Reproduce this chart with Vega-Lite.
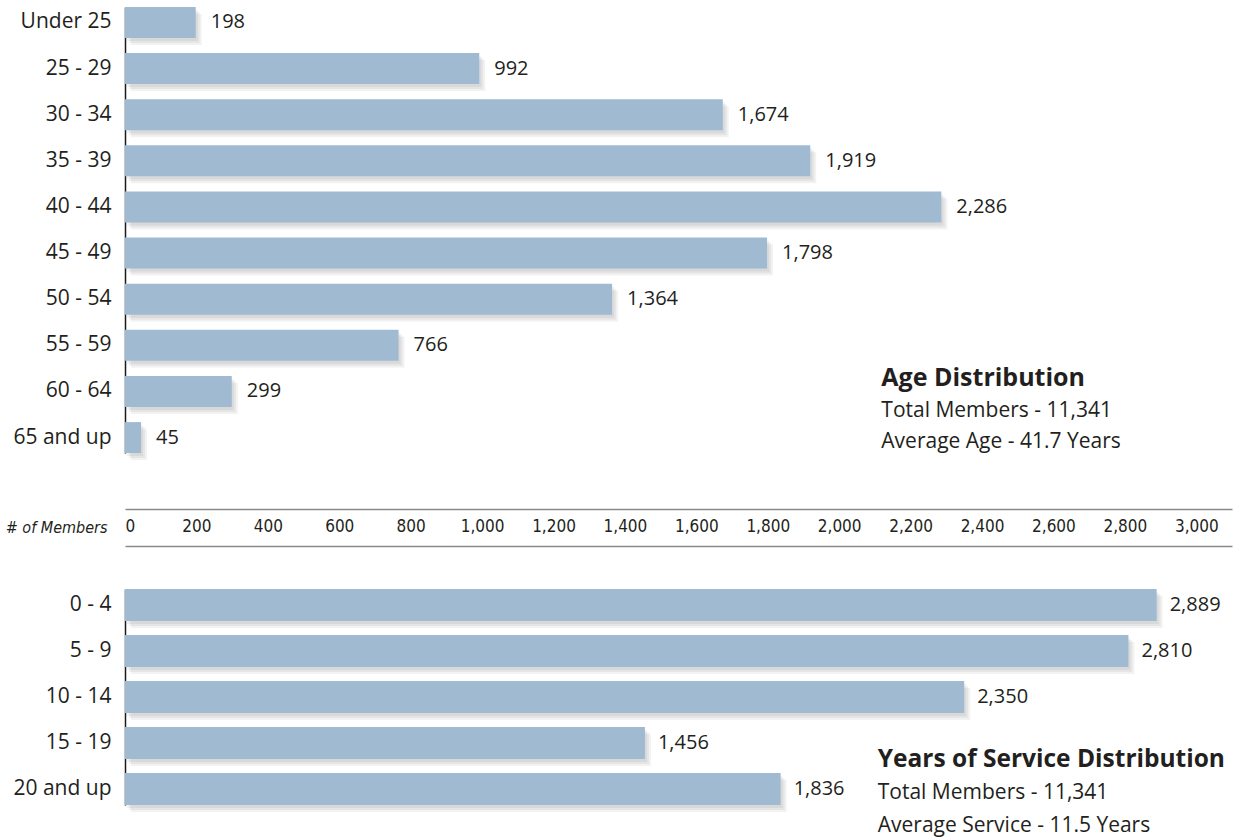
{
  "$schema": "https://vega.github.io/schema/vega-lite/v6.json",
  "background": "white",
  "padding": {"left": 5, "top": 0, "right": 2, "bottom": 4},
  "spacing": 0,
  "bounds": "flush",
  "resolve": {"scale": {"y": "independent"}},
  "config": {
    "view": {"stroke": null},
    "font": "Open Sans",
    "axisY": {
      "domainColor": "#1a1a1a",
      "domainWidth": 1.5,
      "ticks": false,
      "grid": false,
      "zindex": 1,
      "labelPadding": 14,
      "labelFont": "Open Sans",
      "labelFontSize": 21,
      "labelColor": "#231f20",
      "title": null
    }
  },
  "vconcat": [
    {
      "width": 1107,
      "height": 546,
      "data": {"values": [
        {"group": "Under 25", "members": 198},
        {"group": "25 - 29", "members": 992},
        {"group": "30 - 34", "members": 1674},
        {"group": "35 - 39", "members": 1919},
        {"group": "40 - 44", "members": 2286},
        {"group": "45 - 49", "members": 1798},
        {"group": "50 - 54", "members": 1364},
        {"group": "55 - 59", "members": 766},
        {"group": "60 - 64", "members": 299},
        {"group": "65 and up", "members": 45}
      ]},
      "encoding": {
        "y": {
          "field": "group", "type": "nominal", "sort": null,
          "scale": {"domain": ["Under 25","25 - 29","30 - 34","35 - 39","40 - 44","45 - 49","50 - 54","55 - 59","60 - 64","65 and up"], "range": [7, 453], "paddingInner": 0.33, "paddingOuter": 0},
          "axis": {}
        }
      },
      "layer": [
        {
          "mark": {"type": "bar", "color": "#000000", "opacity": 0.05, "xOffset": 6, "yOffset": 7},
          "encoding": {"x": {"field": "members", "type": "quantitative", "scale": {"domain": [0, 3100], "nice": false}, "axis": {
            "orient": "bottom", "offset": -37, "domainColor": "#8a8a8a", "domainWidth": 1.5, "ticks": false, "grid": false,
            "values": [0,200,400,600,800,1000,1200,1400,1600,1800,2000,2200,2400,2600,2800,3000],
            "format": ",.0f", "labelFont": "DejaVu Sans Condensed, Liberation Sans, sans-serif", "labelFontSize": 17, "labelPadding": 9, "labelColor": "#231f20", "labelFlush": true,
            "title": "# of Members", "titleFont": "DejaVu Sans Condensed, Liberation Sans, sans-serif", "titleFontStyle": "italic", "titleFontWeight": "normal", "titleFontSize": 16, "titleColor": "#231f20",
            "titleX": -18, "titleY": 18, "titleAlign": "right", "titleBaseline": "middle", "titleAngle": 0
          }}}
        },
        {
          "mark": {"type": "bar", "color": "#000000", "opacity": 0.05, "xOffset": 4, "yOffset": 5},
          "encoding": {"x": {"field": "members", "type": "quantitative"}}
        },
        {
          "mark": {"type": "bar", "color": "#000000", "opacity": 0.05, "xOffset": 2, "yOffset": 3},
          "encoding": {"x": {"field": "members", "type": "quantitative"}}
        },
        {
          "mark": {"type": "bar", "color": "#9fbad1"},
          "encoding": {"x": {"field": "members", "type": "quantitative"}}
        },
        {
          "mark": {"type": "text", "align": "left", "baseline": "middle", "dx": 15, "fontSize": 20, "color": "#231f20", "font": "Open Sans"},
          "encoding": {"x": {"field": "members", "type": "quantitative"}, "text": {"field": "members", "type": "quantitative", "format": ","}}
        },
        {
          "data": {"values": [{"title": "Age Distribution", "total": "Total Members - 11,341", "average": "Average Age - 41.7 Years"}]},
          "layer": [
            {
              "mark": {"type": "text", "align": "left", "baseline": "middle", "dy": -60, "fontSize": 25, "fontWeight": "bold", "color": "#231f20", "font": "Open Sans"},
              "encoding": {"x": {"datum": 2118, "type": "quantitative"}, "y": {"datum": "65 and up", "type": "nominal"}, "text": {"field": "title", "type": "nominal"}}
            },
            {
              "mark": {"type": "text", "align": "left", "baseline": "middle", "dy": -27, "fontSize": 21, "color": "#231f20", "font": "Open Sans"},
              "encoding": {"x": {"datum": 2118, "type": "quantitative"}, "y": {"datum": "65 and up", "type": "nominal"}, "text": {"field": "total", "type": "nominal"}}
            },
            {
              "mark": {"type": "text", "align": "left", "baseline": "middle", "dy": 4, "fontSize": 21, "color": "#231f20", "font": "Open Sans"},
              "encoding": {"x": {"datum": 2118, "type": "quantitative"}, "y": {"datum": "65 and up", "type": "nominal"}, "text": {"field": "average", "type": "nominal"}}
            }
          ]
        }
      ]
    },
    {
      "width": 1107,
      "height": 259,
      "data": {"values": [
        {"group": "0 - 4", "members": 2889},
        {"group": "5 - 9", "members": 2810},
        {"group": "10 - 14", "members": 2350},
        {"group": "15 - 19", "members": 1456},
        {"group": "20 and up", "members": 1836}
      ]},
      "encoding": {
        "y": {
          "field": "group", "type": "nominal", "sort": null,
          "scale": {"domain": ["0 - 4","5 - 9","10 - 14","15 - 19","20 and up"], "range": [43, 259], "paddingInner": 0.304, "paddingOuter": 0},
          "axis": {}
        }
      },
      "layer": [
        {
          "mark": {"type": "bar", "color": "#000000", "opacity": 0.05, "xOffset": 6, "yOffset": 7},
          "encoding": {"x": {"field": "members", "type": "quantitative", "scale": {"domain": [0, 3100], "nice": false}, "axis": {
            "orient": "top", "domainColor": "#8a8a8a", "domainWidth": 1.5, "ticks": false, "labels": false, "grid": false, "title": null
          }}}
        },
        {
          "mark": {"type": "bar", "color": "#000000", "opacity": 0.05, "xOffset": 4, "yOffset": 5},
          "encoding": {"x": {"field": "members", "type": "quantitative"}}
        },
        {
          "mark": {"type": "bar", "color": "#000000", "opacity": 0.05, "xOffset": 2, "yOffset": 3},
          "encoding": {"x": {"field": "members", "type": "quantitative"}}
        },
        {
          "mark": {"type": "bar", "color": "#9fbad1"},
          "encoding": {"x": {"field": "members", "type": "quantitative"}}
        },
        {
          "mark": {"type": "text", "align": "left", "baseline": "middle", "dx": 13, "fontSize": 20, "color": "#231f20", "font": "Open Sans"},
          "encoding": {"x": {"field": "members", "type": "quantitative"}, "text": {"field": "members", "type": "quantitative", "format": ","}}
        },
        {
          "data": {"values": [{"title": "Years of Service Distribution", "total": "Total Members - 11,341", "average": "Average Service - 11.5 Years"}]},
          "layer": [
            {
              "mark": {"type": "text", "align": "left", "baseline": "middle", "dy": -29, "fontSize": 24.5, "fontWeight": "bold", "color": "#231f20", "font": "Open Sans"},
              "encoding": {"x": {"datum": 2108, "type": "quantitative"}, "y": {"datum": "20 and up", "type": "nominal"}, "text": {"field": "title", "type": "nominal"}}
            },
            {
              "mark": {"type": "text", "align": "left", "baseline": "middle", "dy": 4, "fontSize": 21, "color": "#231f20", "font": "Open Sans"},
              "encoding": {"x": {"datum": 2108, "type": "quantitative"}, "y": {"datum": "20 and up", "type": "nominal"}, "text": {"field": "total", "type": "nominal"}}
            },
            {
              "mark": {"type": "text", "align": "left", "baseline": "middle", "dy": 37, "fontSize": 21, "color": "#231f20", "font": "Open Sans"},
              "encoding": {"x": {"datum": 2108, "type": "quantitative"}, "y": {"datum": "20 and up", "type": "nominal"}, "text": {"field": "average", "type": "nominal"}}
            }
          ]
        }
      ]
    }
  ]
}
